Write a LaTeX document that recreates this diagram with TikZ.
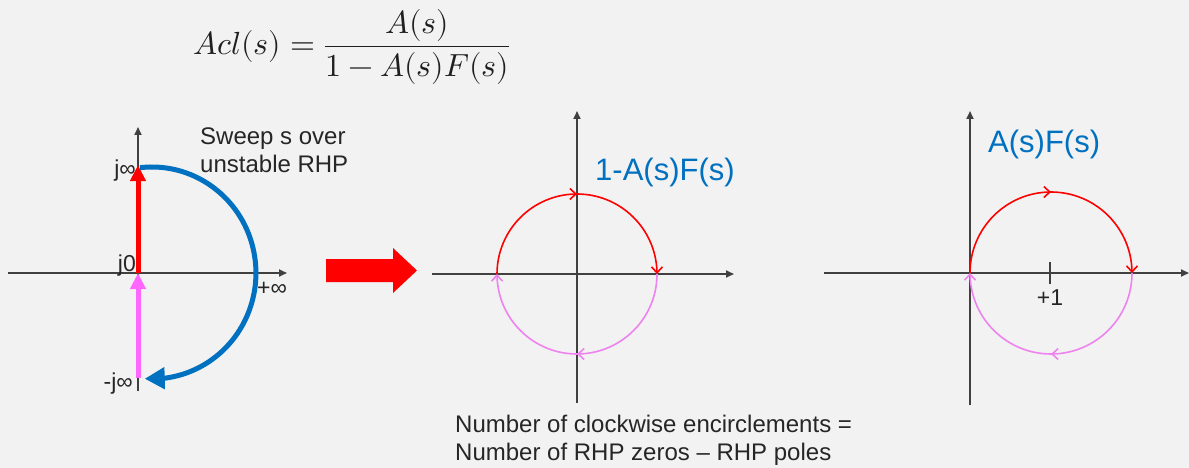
\documentclass[tikz,border=0pt]{standalone}
\usepackage{fontspec}
\usepackage{unicode-math}
\setmainfont{Liberation Sans}
\setmathfont{Latin Modern Math}
\usetikzlibrary{arrows.meta,decorations.markings,bending}
\definecolor{bgc}{HTML}{F2F2F2}
\definecolor{axisc}{HTML}{404040}
\definecolor{myblue}{HTML}{0070C0}
\definecolor{myred}{HTML}{FF0000}
\definecolor{mymag}{HTML}{FF66FF}
\definecolor{circmag}{HTML}{EE82EE}
\begin{document}
\begin{tikzpicture}[x=1pt,y=-1pt,
  axis/.style={draw=axisc, line width=1.8pt, -{Triangle[length=8pt,width=7pt]}},
  tickline/.style={draw=axisc, line width=1.8pt},
  lbl/.style={inner sep=0pt, text=black!85, font=\fontsize{23}{26}\selectfont},
  bigtxt/.style={inner sep=0pt, text=black!85, align=left, font=\fontsize{24}{27.5}\selectfont},
  plotlbl/.style={inner sep=0pt, text=myblue, font=\fontsize{31}{36}\selectfont},
  thickarrow/.style={line width=5pt, -{Triangle[length=16pt,width=15pt]}},
  circarc/.style={line width=1.6pt, -{Straight Barb[length=6pt,width=11pt]},
    decoration={markings, mark=at position 0.5 with {\arrow{Straight Barb[length=6pt,width=11pt]}}},
    postaction={decorate}}
]
\fill[bgc] (0,0) rectangle (1189,468);
\useasboundingbox (0,0) rectangle (1189,468);

% equation
\node[inner sep=0pt, anchor=west, text=black!88, font=\fontsize{32}{38}\selectfont] (eq) at (193,47)
  {$\displaystyle Acl(s)=\frac{A(s)}{1-A(s)F(s)}$};

% ---------- left plot ----------
\coordinate (L0) at (138,273);
\coordinate (Lxl) at (8,273);
\coordinate (Lxr) at (287,273);
\coordinate (Lyt) at (138,127);
\coordinate (Lyb) at (138,391);
\coordinate (Ltop) at (138,165);
\coordinate (Lbot) at (138,378);
\coordinate (Larcs) at (140,167.7);
\draw[axis] (Lxl) -- (Lxr);
\draw[axis] (Lyb) -- (Lyt);
\draw[myred, thickarrow] (L0) -- (Ltop);
\draw[mymag, thickarrow] (Lbot) -- (L0);
\draw[myblue, line width=5pt, -{Triangle[length=20pt,width=21pt,flex]}]
  (Larcs) arc[start angle=-96.6, end angle=94, x radius=104, y radius=106];
\node[lbl, anchor=base east] (jinf) at (136,177) {j∞};
\node[lbl, anchor=base east] (j0) at (136,271) {j0};
\node[lbl, anchor=base west] (pinf) at (257,295) {+∞};
\node[lbl, anchor=base east] (mjinf) at (133,389) {-j∞};
\node[bigtxt, anchor=north west] (sweep) at (200,128) {Sweep s over\\unstable RHP};

% big arrow
\fill[myred] (326,259) -- (393,259) -- (393,248) -- (417,270.5) -- (393,293) -- (393,282) -- (326,282) -- cycle;

% ---------- middle plot ----------
\coordinate (Mxl) at (432,274);
\coordinate (Mxr) at (734,274);
\coordinate (Myt) at (577,111);
\coordinate (Myb) at (577,403);
\coordinate (Mleft) at (497,274);
\coordinate (Mright) at (657,274);
\draw[axis] (Mxl) -- (Mxr);
\draw[axis] (Myb) -- (Myt);
\draw[myred, circarc] (Mleft) arc[start angle=180, end angle=360, radius=80];
\draw[circmag, circarc] (Mright) arc[start angle=0, end angle=180, radius=80];
\node[plotlbl, anchor=base west] (lab1) at (595,180) {1-A(s)F(s)};

% ---------- right plot ----------
\coordinate (Rxl) at (824,273);
\coordinate (Rxr) at (1189,273);
\coordinate (Ryt) at (970,111);
\coordinate (Ryb) at (970,405);
\coordinate (Rleft) at (970,273);
\coordinate (Rright) at (1132,273);
\coordinate (Rt1) at (1050,262);
\coordinate (Rt2) at (1050,284);
\draw[axis] (Rxl) -- (Rxr);
\draw[axis] (Ryb) -- (Ryt);
\draw[tickline] (Rt1) -- (Rt2);
\draw[myred, circarc] (Rleft) arc[start angle=180, end angle=360, radius=81];
\draw[circmag, circarc] (Rright) arc[start angle=0, end angle=180, radius=81];
\node[lbl, anchor=base] (plus1) at (1050,305) {+1};
\node[plotlbl, anchor=base west] (lab2) at (988,153) {A(s)F(s)};

% bottom text
\node[bigtxt, anchor=north west] (note) at (455,415) {Number of clockwise encirclements =\\Number of RHP zeros – RHP poles};
\end{tikzpicture}
\end{document}
